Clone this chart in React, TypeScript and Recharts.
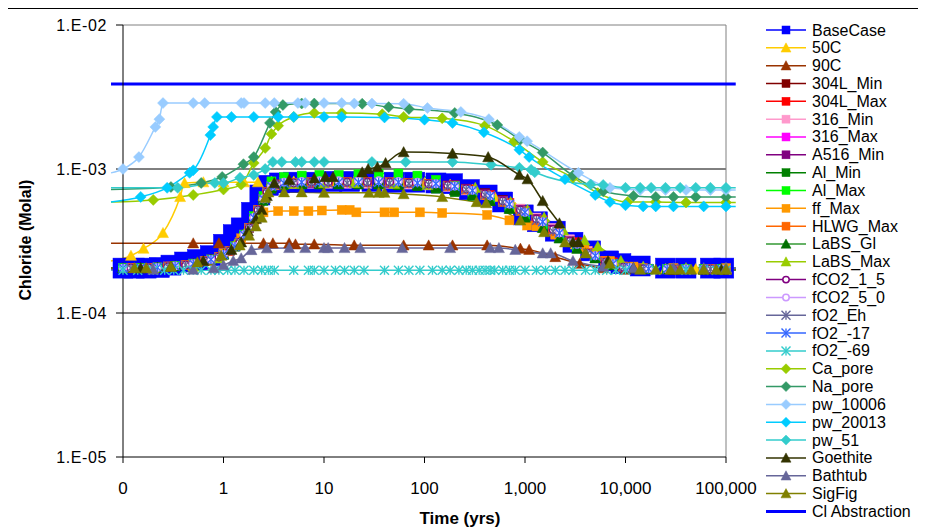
import React from 'react';
import { ComposedChart, Line, XAxis, YAxis, ReferenceLine, Legend, Label } from 'recharts';

type Pt = [number, number];

// ---------- tick labels ----------
const xTicks = [0.1, 1, 10, 100, 1000, 10000, 100000];
const yTicks = [1e-5, 1e-4, 1e-3, 1e-2];

// ---------- shared time grids (yrs) ----------
const tA = [0.076, 0.1, 0.15, 0.22, 0.33, 0.5, 0.75, 1, 1.3, 1.6, 2, 2.5, 3, 4, 6, 9, 14, 22, 35, 55, 85, 130, 200, 300, 450, 700, 1000, 1500, 2200, 3300, 5000, 7500, 11000, 17000, 26000, 40000, 60000, 90000, 125000];
const tB = [0.076, 0.12, 0.18, 0.28, 0.42, 0.65, 0.9, 1.15, 1.45, 1.8, 2.2, 2.7, 3.4, 5, 7.5, 11, 17, 27, 45, 70, 110, 170, 260, 400, 600, 900, 1300, 1900, 2800, 4200, 6300, 9500, 15000, 30000, 70000, 125000];

// ---------- series values (Chloride, molal) ----------
const baseCase: Pt[] = [[0.076, 2.05e-4], [0.1, 2.05e-4], [0.13, 2.05e-4], [0.17, 2.05e-4], [0.23, 2.07e-4], [0.3, 2.15e-4], [0.41, 2.26e-4], [0.55, 2.35e-4], [0.74, 2.5e-4], [1.0, 3.0e-4], [1.25, 3.5e-4], [1.5, 3.9e-4], [1.9, 5.0e-4], [2.3, 6.6e-4], [2.8, 7.7e-4], [3.6, 8.0e-4], [5, 8.1e-4], [8, 8.1e-4], [12, 8.2e-4], [18, 8.2e-4], [30, 8.2e-4], [50, 8.1e-4], [80, 8.1e-4], [130, 8.0e-4], [190, 7.9e-4], [280, 7.2e-4], [420, 6.6e-4], [600, 5.9e-4], [960, 4.8e-4], [1330, 4.3e-4], [2000, 3.7e-4], [3000, 3.1e-4], [4500, 2.7e-4], [6800, 2.3e-4], [9000, 2.2e-4], [14000, 2.12e-4], [25000, 2.05e-4], [40000, 2.05e-4], [70000, 2.05e-4], [95000, 2.05e-4], [125000, 2.05e-4]];
const c50: Pt[] = [[0.076, 2.3e-4], [0.12, 2.5e-4], [0.16, 2.8e-4], [0.25, 3.6e-4], [0.37, 6.4e-4], [0.41, 8.0e-4], [0.63, 8.1e-4], [1.0, 8.1e-4], [1.6, 8.1e-4], [2.2, 8.1e-4], [3, 8.2e-4], [5, 8.2e-4], [8, 8.2e-4], [13, 8.2e-4], [20, 8.2e-4], [35, 8.2e-4], [60, 8.1e-4], [100, 8.0e-4], [180, 7.8e-4], [300, 7.2e-4], [500, 6.4e-4], [800, 5.4e-4], [1300, 4.5e-4], [2000, 3.7e-4], [3200, 3.0e-4], [5000, 2.5e-4], [8000, 2.2e-4], [13000, 2.05e-4], [25000, 2.02e-4], [50000, 2.02e-4], [100000, 2.02e-4], [125000, 2.02e-4]];
const c90: Pt[] = [[0.076, 3.05e-4], [0.5, 3.05e-4], [0.9, 3.05e-4], [2.5, 3.05e-4], [3.1, 3.05e-4], [4.5, 3.05e-4], [5.2, 3.0e-4], [8, 3.0e-4], [20, 2.95e-4], [62, 2.95e-4], [110, 2.95e-4], [190, 2.95e-4], [420, 2.95e-4], [900, 2.8e-4], [1100, 2.75e-4], [2000, 2.45e-4], [3500, 2.2e-4], [6000, 2.05e-4], [10000, 2.0e-4], [30000, 2.0e-4], [100000, 2.0e-4], [125000, 2.0e-4]];
const s304LMin = [2.05e-4, 2.05e-4, 2.06e-4, 2.1e-4, 2.15e-4, 2.3e-4, 2.45e-4, 2.7e-4, 3.1e-4, 3.9e-4, 5.2e-4, 6.9e-4, 7.8e-4, 7.9e-4, 8.0e-4, 8.0e-4, 8.0e-4, 8.0e-4, 8.0e-4, 7.9e-4, 7.8e-4, 7.6e-4, 7.3e-4, 6.8e-4, 6.1e-4, 5.3e-4, 4.5e-4, 3.8e-4, 3.2e-4, 2.7e-4, 2.3e-4, 2.1e-4, 2.04e-4, 2.02e-4, 2.02e-4, 2.02e-4];
const s304LMax = [2.05e-4, 2.05e-4, 2.05e-4, 2.07e-4, 2.12e-4, 2.2e-4, 2.35e-4, 2.55e-4, 2.9e-4, 3.5e-4, 4.6e-4, 6.2e-4, 7.6e-4, 8.0e-4, 8.1e-4, 8.1e-4, 8.2e-4, 8.2e-4, 8.2e-4, 8.2e-4, 8.1e-4, 8.0e-4, 7.7e-4, 7.2e-4, 6.6e-4, 5.8e-4, 5.1e-4, 4.4e-4, 3.7e-4, 3.1e-4, 2.6e-4, 2.25e-4, 2.08e-4, 2.03e-4, 2.02e-4, 2.02e-4, 2.02e-4, 2.02e-4, 2.02e-4];
const s316Min = [2.05e-4, 2.05e-4, 2.06e-4, 2.1e-4, 2.15e-4, 2.3e-4, 2.45e-4, 2.7e-4, 3.1e-4, 3.9e-4, 5.1e-4, 6.8e-4, 7.7e-4, 7.9e-4, 7.9e-4, 7.9e-4, 7.9e-4, 7.9e-4, 7.9e-4, 7.8e-4, 7.7e-4, 7.5e-4, 7.1e-4, 6.6e-4, 6.0e-4, 5.3e-4, 4.6e-4, 3.9e-4, 3.25e-4, 2.7e-4, 2.3e-4, 2.1e-4, 2.04e-4, 2.02e-4, 2.02e-4, 2.02e-4];
const s316Max = [2.05e-4, 2.05e-4, 2.05e-4, 2.07e-4, 2.12e-4, 2.2e-4, 2.35e-4, 2.55e-4, 2.9e-4, 3.5e-4, 4.6e-4, 6.2e-4, 7.6e-4, 8.1e-4, 8.2e-4, 8.2e-4, 8.3e-4, 8.3e-4, 8.3e-4, 8.2e-4, 8.1e-4, 7.9e-4, 7.6e-4, 7.0e-4, 6.3e-4, 5.6e-4, 4.9e-4, 4.2e-4, 3.5e-4, 2.9e-4, 2.45e-4, 2.2e-4, 2.07e-4, 2.03e-4, 2.02e-4, 2.02e-4, 2.02e-4, 2.02e-4, 2.02e-4];
const sA516Min = [2.05e-4, 2.05e-4, 2.06e-4, 2.1e-4, 2.15e-4, 2.3e-4, 2.45e-4, 2.7e-4, 3.1e-4, 3.9e-4, 5.2e-4, 6.9e-4, 7.8e-4, 8.0e-4, 8.0e-4, 8.1e-4, 8.1e-4, 8.1e-4, 8.0e-4, 8.0e-4, 7.9e-4, 7.7e-4, 7.3e-4, 6.7e-4, 6.0e-4, 5.2e-4, 4.5e-4, 3.8e-4, 3.15e-4, 2.6e-4, 2.25e-4, 2.08e-4, 2.03e-4, 2.02e-4, 2.02e-4, 2.02e-4];
const sAlMin = [2.05e-4, 2.05e-4, 2.05e-4, 2.07e-4, 2.12e-4, 2.2e-4, 2.35e-4, 2.55e-4, 2.9e-4, 3.5e-4, 4.5e-4, 6.0e-4, 7.3e-4, 7.7e-4, 7.8e-4, 7.8e-4, 7.8e-4, 7.8e-4, 7.8e-4, 7.7e-4, 7.6e-4, 7.3e-4, 6.9e-4, 6.5e-4, 6.0e-4, 5.3e-4, 4.6e-4, 3.9e-4, 3.3e-4, 2.8e-4, 2.4e-4, 2.15e-4, 2.05e-4, 2.02e-4, 2.02e-4, 2.02e-4, 2.02e-4, 2.02e-4, 2.02e-4];
const sAlMax = [2.05e-4, 2.05e-4, 2.05e-4, 2.07e-4, 2.12e-4, 2.2e-4, 2.35e-4, 2.55e-4, 2.9e-4, 3.5e-4, 4.7e-4, 6.5e-4, 8.2e-4, 8.8e-4, 9.0e-4, 9.1e-4, 9.1e-4, 9.2e-4, 9.3e-4, 9.3e-4, 9.0e-4, 8.4e-4, 7.6e-4, 6.9e-4, 6.2e-4, 5.5e-4, 4.8e-4, 4.1e-4, 3.5e-4, 2.9e-4, 2.45e-4, 2.2e-4, 2.07e-4, 2.03e-4, 2.02e-4, 2.02e-4, 2.02e-4, 2.02e-4, 2.02e-4];
const ffMax: Pt[] = [[0.076, 2.05e-4], [0.3, 2.1e-4], [0.7, 2.3e-4], [1, 2.6e-4], [1.5, 3.3e-4], [2, 4.3e-4], [2.5, 5.0e-4], [3.5, 5.1e-4], [5, 5.1e-4], [7, 5.1e-4], [9.5, 5.15e-4], [15, 5.2e-4], [18, 5.2e-4], [21, 5.0e-4], [40, 5.0e-4], [50, 5.0e-4], [90, 5.0e-4], [150, 4.95e-4], [420, 4.8e-4], [700, 4.4e-4], [1050, 4.05e-4], [1300, 4.0e-4], [2000, 3.5e-4], [3500, 2.85e-4], [3900, 2.8e-4], [4800, 2.6e-4], [7000, 2.3e-4], [12000, 2.1e-4], [30000, 2.05e-4], [100000, 2.05e-4], [125000, 2.05e-4]];
const sHLWGMax = [2.05e-4, 2.05e-4, 2.06e-4, 2.1e-4, 2.15e-4, 2.3e-4, 2.45e-4, 2.7e-4, 3.1e-4, 3.9e-4, 5.2e-4, 6.9e-4, 7.8e-4, 8.0e-4, 8.1e-4, 8.1e-4, 8.1e-4, 8.1e-4, 8.1e-4, 8.0e-4, 7.9e-4, 7.6e-4, 7.2e-4, 6.6e-4, 5.9e-4, 5.1e-4, 4.4e-4, 3.7e-4, 3.1e-4, 2.6e-4, 2.3e-4, 2.1e-4, 2.04e-4, 2.02e-4, 2.02e-4, 2.02e-4];
const sLaBSGl = [2.05e-4, 2.05e-4, 2.05e-4, 2.07e-4, 2.12e-4, 2.2e-4, 2.35e-4, 2.55e-4, 2.9e-4, 3.5e-4, 4.6e-4, 6.2e-4, 7.5e-4, 7.9e-4, 7.9e-4, 7.9e-4, 7.9e-4, 7.9e-4, 7.9e-4, 7.8e-4, 7.7e-4, 7.5e-4, 7.1e-4, 6.6e-4, 6.0e-4, 5.3e-4, 4.6e-4, 3.9e-4, 3.3e-4, 2.8e-4, 2.4e-4, 2.15e-4, 2.05e-4, 2.02e-4, 2.02e-4, 2.02e-4, 2.02e-4, 2.02e-4, 2.02e-4];
const laBSMax: Pt[] = [[0.076, 2.05e-4], [0.2, 2.05e-4], [0.5, 2.1e-4], [0.9, 2.4e-4], [1.3, 3.0e-4], [1.7, 3.8e-4], [2.1, 5.0e-4], [2.5, 6.5e-4], [3, 7.7e-4], [5, 7.9e-4], [10, 8.0e-4], [20, 8.0e-4], [50, 7.9e-4], [107, 7.75e-4], [320, 7.4e-4], [720, 5.9e-4], [1060, 5.2e-4], [1550, 4.6e-4], [2400, 3.75e-4], [3900, 3.2e-4], [5300, 2.9e-4], [9000, 2.3e-4], [15000, 2.1e-4], [40000, 2.05e-4], [100000, 2.05e-4], [125000, 2.05e-4]];
const sFCO2_1_5 = [2.05e-4, 2.05e-4, 2.06e-4, 2.1e-4, 2.15e-4, 2.3e-4, 2.45e-4, 2.7e-4, 3.1e-4, 3.9e-4, 5.2e-4, 6.9e-4, 7.8e-4, 8.0e-4, 8.1e-4, 8.1e-4, 8.1e-4, 8.1e-4, 8.1e-4, 8.0e-4, 7.9e-4, 7.7e-4, 7.3e-4, 6.7e-4, 6.0e-4, 5.2e-4, 4.5e-4, 3.8e-4, 3.15e-4, 2.6e-4, 2.25e-4, 2.08e-4, 2.03e-4, 2.02e-4, 2.02e-4, 2.02e-4];
const sFCO2_5_0 = [2.05e-4, 2.05e-4, 2.05e-4, 2.07e-4, 2.12e-4, 2.2e-4, 2.35e-4, 2.55e-4, 2.9e-4, 3.5e-4, 4.6e-4, 6.2e-4, 7.6e-4, 8.1e-4, 8.2e-4, 8.3e-4, 8.3e-4, 8.3e-4, 8.3e-4, 8.2e-4, 8.1e-4, 7.9e-4, 7.6e-4, 7.1e-4, 6.5e-4, 5.7e-4, 5.0e-4, 4.3e-4, 3.6e-4, 3.0e-4, 2.5e-4, 2.2e-4, 2.07e-4, 2.03e-4, 2.02e-4, 2.02e-4, 2.02e-4, 2.02e-4, 2.02e-4];
const sFO2Eh = [2.05e-4, 2.05e-4, 2.06e-4, 2.1e-4, 2.15e-4, 2.3e-4, 2.45e-4, 2.7e-4, 3.1e-4, 3.9e-4, 5.2e-4, 6.9e-4, 7.8e-4, 8.0e-4, 8.0e-4, 8.0e-4, 8.0e-4, 8.0e-4, 8.0e-4, 7.9e-4, 7.8e-4, 7.6e-4, 7.2e-4, 6.6e-4, 5.9e-4, 5.1e-4, 4.4e-4, 3.7e-4, 3.1e-4, 2.6e-4, 2.25e-4, 2.08e-4, 2.03e-4, 2.02e-4, 2.02e-4, 2.02e-4];
const sFO2m17 = [2.05e-4, 2.05e-4, 2.05e-4, 2.07e-4, 2.12e-4, 2.2e-4, 2.35e-4, 2.55e-4, 2.9e-4, 3.5e-4, 4.6e-4, 6.2e-4, 7.6e-4, 8.0e-4, 8.1e-4, 8.1e-4, 8.1e-4, 8.1e-4, 8.1e-4, 8.1e-4, 8.0e-4, 7.9e-4, 7.6e-4, 7.1e-4, 6.5e-4, 5.7e-4, 5.0e-4, 4.3e-4, 3.6e-4, 3.0e-4, 2.5e-4, 2.2e-4, 2.07e-4, 2.03e-4, 2.02e-4, 2.02e-4, 2.02e-4, 2.02e-4, 2.02e-4];
const fO2m69: Pt[] = [[0.076, 2.0e-4], [0.1, 1.98e-4], [0.14, 1.98e-4], [0.2, 1.98e-4], [0.26, 1.98e-4], [0.32, 1.98e-4], [0.4, 1.98e-4], [0.5, 1.98e-4], [0.6, 1.98e-4], [0.75, 1.98e-4], [0.9, 1.98e-4], [1.1, 1.98e-4], [1.3, 1.98e-4], [1.6, 1.98e-4], [2, 1.98e-4], [2.4, 1.98e-4], [2.8, 1.98e-4], [3.2, 1.98e-4], [5, 1.98e-4], [7, 1.98e-4], [8, 1.98e-4], [10, 1.98e-4], [13, 1.98e-4], [16, 1.98e-4], [20, 1.98e-4], [25, 1.98e-4], [40, 1.98e-4], [55, 1.98e-4], [70, 1.98e-4], [90, 1.98e-4], [120, 1.98e-4], [150, 1.98e-4], [180, 1.98e-4], [220, 1.98e-4], [260, 1.98e-4], [300, 1.98e-4], [350, 1.98e-4], [400, 1.98e-4], [450, 1.98e-4], [500, 1.98e-4], [600, 1.98e-4], [700, 1.98e-4], [800, 1.98e-4], [1000, 1.98e-4], [1300, 1.98e-4], [1600, 1.98e-4], [2000, 1.98e-4], [2500, 1.98e-4], [3000, 1.98e-4], [4000, 1.98e-4], [5000, 1.98e-4], [6500, 1.98e-4], [8000, 1.98e-4], [10000, 1.98e-4], [20000, 1.98e-4], [40000, 1.98e-4], [60000, 1.98e-4], [80000, 1.98e-4], [100000, 1.98e-4], [125000, 1.98e-4]];
const caPore: Pt[] = [[0.076, 5.9e-4], [0.2, 6.1e-4], [0.5, 6.6e-4], [1.0, 7.2e-4], [1.5, 7.8e-4], [2.0, 1.1e-3], [2.6, 1.4e-3], [3.0, 1.75e-3], [3.5, 2.0e-3], [5, 2.3e-3], [8, 2.45e-3], [15, 2.45e-3], [38, 2.4e-3], [62, 2.3e-3], [150, 2.25e-3], [400, 2.0e-3], [780, 1.55e-3], [1500, 1.12e-3], [3000, 8.7e-4], [5300, 6.8e-4], [10500, 5.9e-4], [20000, 5.9e-4], [40000, 5.85e-4], [100000, 5.85e-4], [125000, 5.85e-4]];
const naPore: Pt[] = [[0.076, 7.2e-4], [0.3, 7.5e-4], [0.6, 8.0e-4], [0.97, 8.8e-4], [1.58, 1.08e-3], [2.0, 1.21e-3], [2.9, 2.09e-3], [3.3, 2.49e-3], [3.9, 2.78e-3], [6, 2.85e-3], [8, 2.85e-3], [24, 2.84e-3], [44, 2.69e-3], [70, 2.61e-3], [200, 2.45e-3], [530, 2.02e-3], [900, 1.6e-3], [1500, 1.3e-3], [3000, 9.0e-4], [6000, 7.0e-4], [12000, 6.5e-4], [20000, 6.4e-4], [30000, 6.4e-4], [50000, 6.4e-4], [100000, 6.4e-4], [125000, 6.4e-4]];
const pw10006: Pt[] = [[0.076, 9.4e-4], [0.1, 1.0e-3], [0.144, 1.21e-3], [0.21, 1.96e-3], [0.23, 2.22e-3], [0.25, 2.87e-3], [0.5, 2.87e-3], [0.65, 2.87e-3], [1.5, 2.87e-3], [1.6, 2.87e-3], [2.6, 2.87e-3], [3.2, 2.87e-3], [5.5, 2.87e-3], [6.5, 2.87e-3], [10, 2.87e-3], [15, 2.87e-3], [20, 2.85e-3], [30, 2.85e-3], [62, 2.84e-3], [107, 2.65e-3], [230, 2.49e-3], [437, 2.22e-3], [877, 1.67e-3], [1050, 1.56e-3], [3400, 9.4e-4], [7000, 7.4e-4], [14000, 7.15e-4], [25000, 7.15e-4], [40000, 7.15e-4], [70000, 7.15e-4], [100000, 7.15e-4], [125000, 7.15e-4]];
const pw20013: Pt[] = [[0.076, 5.9e-4], [0.15, 6.4e-4], [0.275, 7.4e-4], [0.46, 9.4e-4], [0.5, 9.8e-4], [0.74, 1.72e-3], [0.79, 1.96e-3], [0.86, 2.3e-3], [1.2, 2.3e-3], [2, 2.3e-3], [3.5, 2.3e-3], [5, 2.3e-3], [10, 2.3e-3], [15, 2.3e-3], [40, 2.28e-3], [100, 2.2e-3], [190, 2.09e-3], [390, 1.8e-3], [880, 1.36e-3], [1100, 1.21e-3], [2500, 8.5e-4], [5000, 6.6e-4], [7000, 5.9e-4], [10000, 5.6e-4], [15000, 5.5e-4], [20000, 5.5e-4], [30000, 5.5e-4], [60000, 5.5e-4], [100000, 5.5e-4], [125000, 5.5e-4]];
const pw51: Pt[] = [[0.076, 7.4e-4], [0.35, 7.4e-4], [0.82, 8.0e-4], [1.0, 8.0e-4], [1.46, 8.7e-4], [2.0, 9.1e-4], [2.6, 1.0e-3], [3.1, 1.12e-3], [3.8, 1.12e-3], [5.2, 1.12e-3], [6, 1.12e-3], [8, 1.12e-3], [10, 1.12e-3], [30, 1.12e-3], [65, 1.12e-3], [190, 1.12e-3], [460, 1.07e-3], [880, 1.02e-3], [1150, 9.9e-4], [1250, 9.5e-4], [4500, 7.8e-4], [6000, 7.75e-4], [10000, 7.4e-4], [14000, 7.4e-4], [18000, 7.4e-4], [25000, 7.4e-4], [35000, 7.4e-4], [50000, 7.4e-4], [70000, 7.4e-4], [100000, 7.4e-4], [125000, 7.4e-4]];
const goethite: Pt[] = [[0.076, 2.05e-4], [0.15, 2.05e-4], [0.3, 2.1e-4], [0.63, 2.3e-4], [1.2, 2.75e-4], [1.5, 3.1e-4], [1.75, 3.7e-4], [2.1, 4.5e-4], [2.4, 5.2e-4], [2.7, 6.5e-4], [3.2, 8.0e-4], [4.5, 8.4e-4], [8, 8.6e-4], [10.3, 8.8e-4], [12.3, 8.8e-4], [24, 9.5e-4], [27.5, 1.0e-3], [34, 1.03e-3], [41, 1.1e-3], [62, 1.31e-3], [190, 1.28e-3], [430, 1.21e-3], [880, 9.1e-4], [1060, 8.5e-4], [1500, 6.0e-4], [2200, 4.2e-4], [3000, 3.1e-4], [3400, 3.1e-4], [6700, 2.3e-4], [12000, 2.05e-4], [30000, 2.0e-4], [60000, 2.0e-4], [90000, 2.0e-4], [125000, 2.0e-4]];
const bathtub: Pt[] = [[0.076, 2.0e-4], [0.2, 2.0e-4], [0.5, 2.0e-4], [0.8, 2.05e-4], [1.0, 2.15e-4], [1.25, 2.3e-4], [1.5, 2.4e-4], [1.9, 2.74e-4], [2.7, 2.82e-4], [4.5, 2.83e-4], [6.5, 2.83e-4], [10, 2.83e-4], [11, 2.83e-4], [16, 2.83e-4], [23, 2.83e-4], [60, 2.83e-4], [180, 2.83e-4], [450, 2.83e-4], [550, 2.83e-4], [800, 2.75e-4], [1500, 2.6e-4], [1800, 2.6e-4], [3000, 2.3e-4], [6000, 2.1e-4], [12000, 2.05e-4], [30000, 2.05e-4], [60000, 2.05e-4], [100000, 2.05e-4], [125000, 2.05e-4]];
const sigFig: Pt[] = [[0.076, 2.05e-4], [0.13, 2.05e-4], [0.17, 2.05e-4], [0.3, 2.1e-4], [0.55, 2.25e-4], [0.95, 2.5e-4], [1.45, 2.95e-4], [1.8, 3.45e-4], [2.1, 4.0e-4], [2.4, 4.6e-4], [2.6, 6.3e-4], [2.8, 6.9e-4], [4, 6.9e-4], [6, 6.9e-4], [10, 6.85e-4], [28, 6.85e-4], [35, 6.85e-4], [40, 6.85e-4], [62, 6.7e-4], [150, 6.4e-4], [330, 5.9e-4], [410, 5.8e-4], [900, 4.4e-4], [1550, 3.65e-4], [2500, 3.1e-4], [4000, 2.6e-4], [7000, 2.2e-4], [14000, 2.0e-4], [20000, 2.0e-4], [28000, 2.0e-4], [35000, 2.0e-4], [45000, 2.0e-4], [60000, 2.0e-4], [80000, 2.0e-4], [100000, 2.0e-4], [125000, 2.0e-4]];
const clAbstraction: Pt[] = [[0.076, 3.9e-3], [125000, 3.9e-3]];

const zipT = (ts: number[], vs: number[]): Pt[] => ts.map((t, i) => [t, vs[i]]);

type Kind = 'square' | 'triangle' | 'diamond' | 'circle' | 'star' | 'none';
interface S { name: string; data: Pt[]; color: string; marker?: string; kind: Kind; size: number; width?: number }

const SERIES: S[] = [
  { name: 'BaseCase', data: baseCase, color: '#0000FF', kind: 'square', size: 20 },
  { name: '50C', data: c50, color: '#FFCC00', kind: 'triangle', size: 11 },
  { name: '90C', data: c90, color: '#993300', kind: 'triangle', size: 11 },
  { name: '304L_Min', data: zipT(tB, s304LMin), color: '#800000', kind: 'square', size: 9 },
  { name: '304L_Max', data: zipT(tA, s304LMax), color: '#FF0000', kind: 'square', size: 9 },
  { name: '316_Min', data: zipT(tB, s316Min), color: '#FF99CC', kind: 'square', size: 9 },
  { name: '316_Max', data: zipT(tA, s316Max), color: '#FF00FF', kind: 'square', size: 9 },
  { name: 'A516_Min', data: zipT(tB, sA516Min), color: '#800080', kind: 'square', size: 9 },
  { name: 'Al_Min', data: zipT(tA, sAlMin), color: '#008000', kind: 'square', size: 9 },
  { name: 'Al_Max', data: zipT(tA, sAlMax), color: '#00FF00', kind: 'square', size: 9 },
  { name: 'ff_Max', data: ffMax, color: '#FF9900', kind: 'square', size: 9 },
  { name: 'HLWG_Max', data: zipT(tB, sHLWGMax), color: '#FF6600', kind: 'square', size: 9 },
  { name: 'LaBS_Gl', data: zipT(tA, sLaBSGl), color: '#339933', marker: '#007000', kind: 'triangle', size: 11 },
  { name: 'LaBS_Max', data: laBSMax, color: '#99CC00', kind: 'triangle', size: 11 },
  { name: 'fCO2_1_5', data: zipT(tB, sFCO2_1_5), color: '#800080', kind: 'circle', size: 9 },
  { name: 'fCO2_5_0', data: zipT(tA, sFCO2_5_0), color: '#CC99FF', kind: 'circle', size: 9 },
  { name: 'fO2_Eh', data: zipT(tB, sFO2Eh), color: '#666699', kind: 'star', size: 9 },
  { name: 'fO2_-17', data: zipT(tA, sFO2m17), color: '#3366FF', kind: 'star', size: 9 },
  { name: 'fO2_-69', data: fO2m69, color: '#33CCCC', kind: 'star', size: 9 },
  { name: 'Ca_pore', data: caPore, color: '#99CC00', kind: 'diamond', size: 11 },
  { name: 'Na_pore', data: naPore, color: '#339966', kind: 'diamond', size: 11 },
  { name: 'pw_10006', data: pw10006, color: '#99CCFF', kind: 'diamond', size: 11 },
  { name: 'pw_20013', data: pw20013, color: '#00CCFF', kind: 'diamond', size: 11 },
  { name: 'pw_51', data: pw51, color: '#33CCCC', kind: 'diamond', size: 11 },
  { name: 'Goethite', data: goethite, color: '#333300', kind: 'triangle', size: 11 },
  { name: 'Bathtub', data: bathtub, color: '#666699', kind: 'triangle', size: 11 },
  { name: 'SigFig', data: sigFig, color: '#808000', kind: 'triangle', size: 11 },
  { name: 'Cl Abstraction', data: clAbstraction, color: '#0000FF', kind: 'none', size: 0, width: 3 },
];

const FONT = 'Arial, "Liberation Sans", sans-serif';

// layout
const W = 918;
const H = 523;
const PLOT_L = 115;
const PLOT_R = 718;
const DECADE = (PLOT_R - PLOT_L) / 6;
const EXT_L = 12;
const EXT_R = 10;
const EXT_MIN = 0.1 / Math.pow(10, EXT_L / DECADE);
const EXT_MAX = 100000 * Math.pow(10, EXT_R / DECADE);

function Marker({ kind, x, y, size, color }: { kind: Kind; x: number; y: number; size: number; color: string }) {
  const h = size / 2;
  switch (kind) {
    case 'square':
      return <rect x={x - h} y={y - h} width={size} height={size} fill={color} stroke={color} strokeWidth={0.5} />;
    case 'triangle':
      return <polygon points={`${x},${y - h} ${x + h},${y + h * 0.85} ${x - h},${y + h * 0.85}`} fill={color} stroke={color} strokeWidth={0.5} />;
    case 'diamond':
      return <polygon points={`${x},${y - h} ${x + h},${y} ${x},${y + h} ${x - h},${y}`} fill={color} stroke={color} strokeWidth={0.5} />;
    case 'circle':
      return <circle cx={x} cy={y} r={h - 0.8} fill="#fff" stroke={color} strokeWidth={1.5} />;
    case 'star':
      return (
        <g stroke={color} strokeWidth={1.4}>
          <line x1={x - h} y1={y - h} x2={x + h} y2={y + h} />
          <line x1={x - h} y1={y + h} x2={x + h} y2={y - h} />
          <line x1={x} y1={y - h} x2={x} y2={y + h} />
        </g>
      );
    default:
      return null;
  }
}

const makeDot = (s: S) => (p: any) => {
  const { cx, cy, payload, index } = p;
  if (cx == null || cy == null || !payload || payload.t < 0.1 || payload.t > 100000) return <g key={`d${index}`} />;
  return (
    <g key={`d${index}`}>
      <Marker kind={s.kind} x={cx} y={cy} size={s.size} color={s.marker ?? s.color} />
    </g>
  );
};

const legendSize = (k: Kind) => (k === 'square' ? 8 : k === 'circle' ? 8 : k === 'star' ? 9 : 10);

const LegendBox = () => (
  <svg width={170} height={450} style={{ display: 'block', overflow: 'visible' }}>
    {SERIES.map((s, i) => {
      const y = 12 + i * 17.83;
      return (
        <g key={s.name}>
          <line x1={8} x2={48} y1={y} y2={y} stroke={s.color} strokeWidth={s.kind === 'none' ? 3 : 1.5} />
          {s.kind !== 'none' && <Marker kind={s.kind} x={28} y={y} size={legendSize(s.kind)} color={s.marker ?? s.color} />}
          <text x={54} y={y} dominantBaseline="central" fontSize={16} fontFamily={FONT} fill="#000">
            {s.name}
          </text>
        </g>
      );
    })}
  </svg>
);

const fmtX = (v: number) => (v < 1 ? '0' : v.toLocaleString('en-US'));
const fmtY = (v: number) => `1.E-${String(Math.round(-Math.log10(v))).padStart(2, '0')}`;

const XTitle = () => (
  <text x={452} y={510} textAnchor="middle" dominantBaseline="central" fontSize={17} fontWeight="bold" fontFamily={FONT} fill="#000">
    Time (yrs)
  </text>
);
const YTitle = () => (
  <text x={17} y={232} transform="rotate(-90 17 232)" textAnchor="middle" dominantBaseline="central" fontSize={16} fontWeight="bold" fontFamily={FONT} fill="#000">
    Chloride (Molal)
  </text>
);

export default function App() {
  return (
    <div style={{ position: 'relative', width: W, height: H }}>
      <style>{'html,body{overflow:hidden;} body{margin:8px 8px 0 8px;}'}</style>
      <div style={{ position: 'absolute', left: -1, top: 0, width: W + 1, height: H, borderTop: '1px solid #000', borderLeft: '1px solid #000', boxSizing: 'border-box', pointerEvents: 'none' }} />
      <div style={{ position: 'absolute', left: 0, top: 0, width: W, height: H }}>
        <ComposedChart width={W} height={H} margin={{ top: 17, right: W - PLOT_R, bottom: 0, left: 0 }} style={{ fontFamily: FONT }}>
          <XAxis
            xAxisId="main"
            dataKey="t"
            type="number"
            scale="log"
            domain={[0.1, 100000]}
            ticks={xTicks}
            interval={0}
            tickFormatter={fmtX}
            height={74}
            tickSize={6}
            tickMargin={19}
            axisLine={{ stroke: '#000' }}
            tickLine={{ stroke: '#000' }}
            tick={{ fontSize: 17, fill: '#000', fontFamily: FONT }}
          >
            <Label content={<XTitle />} />
          </XAxis>
          <XAxis xAxisId="ext" dataKey="t" type="number" scale="log" domain={[EXT_MIN, EXT_MAX]} padding={{ left: -EXT_L, right: -EXT_R }} height={0} hide />
          <YAxis
            type="number"
            scale="log"
            domain={[1e-5, 1e-2]}
            ticks={yTicks}
            interval={0}
            tickFormatter={fmtY}
            width={PLOT_L}
            tickSize={7}
            tickMargin={9}
            axisLine={{ stroke: '#000' }}
            tickLine={{ stroke: '#000' }}
            tick={{ fontSize: 16, fill: '#000', fontFamily: FONT, letterSpacing: 0.6 }}
          >
            <Label content={<YTitle />} />
          </YAxis>
          <ReferenceLine xAxisId="main" y={1e-3} stroke="#000" strokeWidth={1} />
          <ReferenceLine xAxisId="main" y={1e-4} stroke="#000" strokeWidth={1} />
          <ReferenceLine xAxisId="main" y={1e-2} stroke="#808080" strokeWidth={1} />
          <ReferenceLine xAxisId="main" x={100000} stroke="#808080" strokeWidth={1} />
          <Line xAxisId="main" data={[{ t: 0.1, v: 1e-3 }, { t: 100000, v: 1e-3 }]} dataKey="v" stroke="none" dot={false} activeDot={false} isAnimationActive={false} legendType="none" />
          {SERIES.map((s) => (
            <Line
              key={s.name}
              xAxisId="ext"
              name={s.name}
              data={s.data.map(([t, v]) => ({ t, v }))}
              dataKey="v"
              type="monotone"
              stroke={s.color}
              strokeWidth={s.width ?? 1.5}
              dot={s.kind === 'none' ? false : makeDot(s)}
              activeDot={false}
              isAnimationActive={false}
            />
          ))}
          <Legend layout="vertical" align="center" verticalAlign="middle" wrapperStyle={{ left: 750, top: 10, width: 170, height: 450 }} content={() => <LegendBox />} />
        </ComposedChart>
      </div>
    </div>
  );
}
